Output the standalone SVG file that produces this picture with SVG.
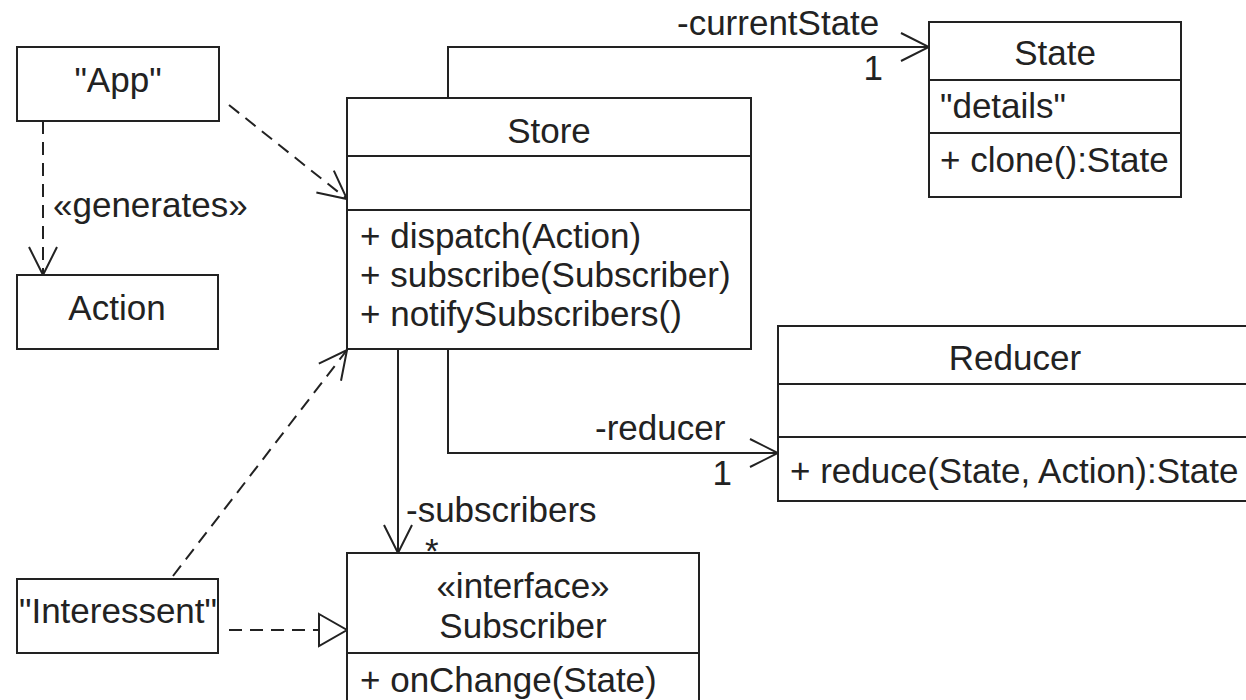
<svg xmlns="http://www.w3.org/2000/svg" width="1246" height="700" viewBox="0 0 1246 700">
<style>
.box{fill:#fff;stroke:#222;stroke-width:2}
.ln{fill:none;stroke:#222;stroke-width:2}
.dash{stroke-dasharray:13 8}
text{font-family:"Liberation Sans",Arial,sans-serif;font-size:35px;fill:#222}
.c{text-anchor:middle}
</style>
<defs>
<marker id="open" viewBox="0 0 32 32" markerWidth="32" markerHeight="32" refX="30" refY="16" orient="auto" markerUnits="userSpaceOnUse">
<path d="M2 2 L30 16 L2 30" fill="none" stroke="#222" stroke-width="2"/>
</marker>
<marker id="tri" viewBox="0 0 32 36" markerWidth="32" markerHeight="36" refX="30" refY="18" orient="auto" markerUnits="userSpaceOnUse">
<path d="M2 2 L30 18 L2 34 Z" fill="#fff" stroke="#222" stroke-width="2"/>
</marker>
</defs>
<rect width="1246" height="700" fill="#fff"/>

<g id="connectors">
<path class="ln dash" d="M43 121 L43 275" marker-end="url(#open)"/>
<path class="ln dash" d="M229 105 L347 199" marker-end="url(#open)"/>
<path class="ln dash" d="M173 576 L347 350" marker-end="url(#open)"/>
<path class="ln dash" d="M229 630 L347 630" marker-end="url(#tri)"/>
<path class="ln" d="M448 98 L448 47 L929 47" marker-end="url(#open)"/>
<path class="ln" d="M448 349 L448 453 L778 453" marker-end="url(#open)"/>
<path class="ln" d="M398 349 L398 553" marker-end="url(#open)"/>
<text x="53" y="217">«generates»</text>
<text x="677" y="35">-currentState</text>
<text x="883" y="80" text-anchor="end">1</text>
<text x="595" y="440">-reducer</text>
<text x="732" y="485" text-anchor="end">1</text>
<text x="406" y="522">-subscribers</text>
<text x="425" y="563">*</text>
</g>

<g id="app">
<rect class="box" x="17" y="47" width="202" height="74"/>
<text class="c" x="118" y="92">"App"</text>
</g>

<g id="action">
<rect class="box" x="17" y="275" width="201" height="74"/>
<text class="c" x="117" y="320">Action</text>
</g>

<g id="store">
<rect class="box" x="347" y="98" width="404" height="251"/>
<path class="ln" d="M347 156 H751 M347 210 H751"/>
<text class="c" x="549" y="143">Store</text>
<text x="360" y="248">+ dispatch(Action)</text>
<text x="360" y="287">+ subscribe(Subscriber)</text>
<text x="360" y="326">+ notifySubscribers()</text>
</g>

<g id="state">
<rect class="box" x="929" y="22" width="252" height="175"/>
<path class="ln" d="M929 80 H1181 M929 133 H1181"/>
<text class="c" x="1055" y="65">State</text>
<text x="940" y="118">"details"</text>
<text x="940" y="172">+ clone():State</text>
</g>

<g id="reducer">
<rect class="box" x="778" y="326" width="480" height="175"/>
<path class="ln" d="M778 384 H1258 M778 437 H1258"/>
<text class="c" x="1015" y="370">Reducer</text>
<text x="790" y="483">+ reduce(State, Action):State</text>
</g>

<g id="subscriber">
<rect class="box" x="347" y="553" width="352" height="160"/>
<path class="ln" d="M347 653 H699"/>
<text class="c" x="523" y="598">«interface»</text>
<text class="c" x="523" y="638">Subscriber</text>
<text x="360" y="692">+ onChange(State)</text>
</g>

<g id="interessent">
<rect class="box" x="17" y="579" width="201" height="74"/>
<text class="c" x="118" y="623">"Interessent"</text>
</g>
</svg>
